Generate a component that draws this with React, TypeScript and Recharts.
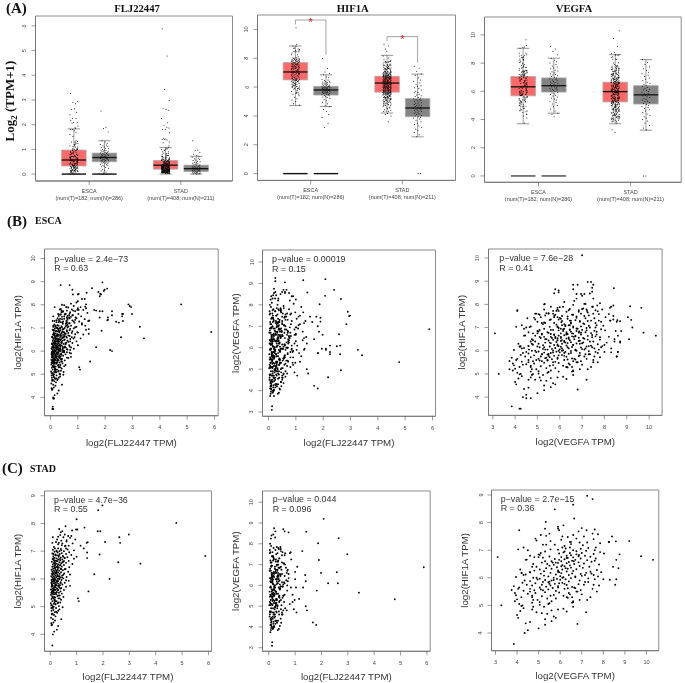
import React from 'react';
import { ScatterChart, Scatter, XAxis, YAxis, ReferenceArea, ReferenceLine } from 'recharts';

// [FLJ22447, HIF1A, VEGFA] (STAD tumour samples)
const stadRows: (number | null)[][] = [
[5.88,6.83,6.87],[4.78,8.02,5.33],[3.42,6.55,5.65],[2.98,7.6,7.5],[2.65,7.3,8.27],[2.62,7.5,6.1],[2.58,6.6,6.63],[2.25,6,6.1],[2.08,7.33,9.2],[1.98,8.65,6.6],[1.87,6.88,8.03],[1.82,8.48,5.75],[1.8,7.72,4.1],[1.9,7.72,7.22],[1.67,6.17,4.22],[1.45,5.55,4.8],[1.42,7.32,8.58],[1.4,6.75,5],[1.38,7.3,6.5],[1.4,6.95,6.2],[1.3,7.85,5.9],[1.27,7.1,7.65],[1.05,5.3,4.7],[1.08,5.2,6.9],[1,8.15,6.65],[1.03,7.78,5.9],[.98,7.78,5.3],[1.15,7.2,5.35],
[.12,6.75,3.1],[.13,5,3.27],[.08,3.6,3.85],[.1,4,4.35],[.15,4.1,4.5],[.25,4.17,5],[.3,4.3,5.3],[.05,4.33,6.8],[.07,4.35,4.4],[.04,4.4,4.6],[.12,4.43,5.6],[.18,4.5,5.3],[.1,4.55,4.05],[.2,4.65,4],[.03,4.6,5.7],[.06,4.72,5.15],[.14,4.7,5.4],[.42,4.55,5.8],[.09,4.75,4.9],[.17,4.8,4.15],[.22,4.82,5.6],[.3,4.85,4.7],[.05,4.85,5.9],[.12,4.88,6.15],[.26,4.78,6.3],[.35,4.9,4.3],
[.04,4.95,4.75],[.1,5,4.25],[.33,5.02,5.05],[.47,4.98,4.2],[.06,5.05,4.1],[.2,5.08,5.5],[.13,5.1,4.7],[.28,5.12,6.6],[.02,5.12,5.05],[.38,5.15,3.9],[.08,5.2,4.75],[.24,5.2,4.95],[.16,5.22,4],[.41,5.25,5.4],[.05,5.28,6.35],[.31,5.3,4.2],[.12,5.3,6.55],[.19,5.33,5.15],[.5,5.35,4.7],[.09,5.37,3.95],[.27,5.38,5.7],[.36,5.4,6.45],[.03,5.42,4.5],[.15,5.45,3.9],[.22,5.45,4.85],[.44,5.47,5.95],[.07,5.48,5.3],[.33,5.5,6.75],[.18,5.5,4.6],
[.11,5.52,5.8],[.25,5.53,4.3],[.39,5.55,5.2],[.06,5.56,3.75],[.14,5.58,5.45],[.3,5.6,6.2],[.2,5.6,4.05],[.52,5.6,4.6],[.03,5.62,6.7],[.17,5.63,5.65],[.27,5.65,5.05],[.09,5.65,4.1],[.42,5.67,6.55],[.13,5.68,5.35],[.34,5.7,3.85],[.21,5.7,5.9],[.05,5.72,4.7],[.6,5.72,5.55],[.16,5.74,6.3],[.29,5.75,5.15],[.1,5.75,4.45],[.37,5.77,6.85],[.23,5.78,5.75],[.07,5.8,5.95],[.46,5.8,4.85],[.18,5.82,4.25],[.32,5.82,6.1],[.12,5.84,5.45],[.26,5.85,7.15],[.04,5.85,5.2],[.55,5.86,5.5],[.2,5.87,6.4],[.39,5.88,4.6],[.15,5.9,5.6],[.09,5.9,6.9],[.3,5.92,5.3],[.7,5.93,6],[.24,5.94,4.95],[.13,5.95,6.25],[.43,5.96,5.85],[.06,5.97,5.05],[.19,5.98,7.3],[.35,5.99,6.5],
[.11,6,5.7],[.28,6,4.75],[.5,6.02,6.15],[.17,6.03,3.95],[.08,6.05,6.7],[.38,6.05,5.45],[.23,6.06,6],[.62,6.07,7],[.14,6.08,5.25],[.32,6.1,6.4],[.04,6.1,7.55],[.2,6.12,5.8],[.45,6.12,4.4],[.1,6.14,6.95],[.27,6.15,5.1],[.75,6.16,6.55],[.16,6.17,6.05],[.36,6.18,7.2],[.06,6.18,5.55],[.22,6.2,4.6],[.53,6.2,5.95],[.12,6.22,7.4],[.3,6.23,6.3],[.41,6.24,5.25],[.18,6.25,6.6],[.68,6.26,4.8],[.08,6.27,5.9],[.25,6.28,7.7],[.14,6.3,5.05],[.34,6.3,6.1],[.48,6.31,6.75],[.2,6.33,5.6],[.05,6.33,6.35],[.28,6.35,5.35],[.58,6.36,7.05],[.11,6.37,6.5],[.4,6.38,5.85],[.17,6.4,7.35],[.32,6.4,4.9],[.72,6.42,6.2],[.23,6.43,6.9],[.08,6.44,5.5],[.44,6.45,6.45],[.15,6.46,6.1],[.28,6.47,5.7],[.36,6.48,7.8],[.52,6.5,5.4],[.19,6.5,6.65],
[.1,6.52,7.1],[.3,6.53,6.3],[.84,6.54,5.9],[.24,6.55,5.15],[.42,6.56,6.85],[.13,6.57,6.4],[.6,6.58,7.45],[.35,6.6,5.6],[.18,6.6,6.05],[.06,6.62,7.6],[.5,6.62,6.55],[.27,6.64,7.25],[.7,6.65,6.7],[.21,6.66,4.45],[.38,6.67,6.2],[.14,6.68,5.75],[.46,6.7,7.65],[.3,6.7,6.95],[.09,6.72,6.3],[.9,6.73,5.2],[.24,6.74,6.6],[.55,6.75,6.05],[.17,6.76,7.4],[.4,6.77,5.5],[.65,6.78,6.85],[.32,6.8,7.15],[.12,6.82,6.5],[.48,6.83,5.05],[.26,6.85,6.75],[1,6.8,6.3],[.8,6.86,7.55],[.2,6.88,5.95],[.36,6.9,7],[.6,6.9,6.45],[.08,6.92,6.15],[.44,6.93,7.85],[.28,6.95,5.3],[.72,6.96,6.75],[.16,6.98,7.2],
[.35,7,6.6],[.52,7,7.6],[.24,7.02,5.9],[.9,7.03,5.55],[.1,7.05,6.95],[.66,7.06,6.25],[.4,7.08,7.3],[.18,7.1,6.45],[.1,7.5,8.4],[.08,7.3,8.25],[.2,6.85,8.75],[.25,6.65,8.6],[.17,6.4,8.45],[.6,5.95,8.6],[.75,5.75,8.55],[.55,6.35,8.7],[.3,7.25,7.85],[.46,7.28,6.9],[.14,7.15,6.2],[.56,7.18,7.05],[.7,7.2,5.75],[.33,7.3,6.45],[.22,7.33,5.55],[.85,7.28,7.25],[.42,7.38,6.05],[.62,7.4,7.55],[.26,7.42,6.75],[.95,7.42,4.85],[.5,7.5,7.1],[.3,7.52,5.35],[.68,7.55,6.6],[.38,7.58,7.75],[.55,7.6,5.5],[.75,7.48,6.35],[.4,7.68,6.85],[.34,7.8,7],[.46,7.72,5.95],[.58,7.9,6.15],[.83,7.75,7.6],
[.42,7.03,4.05],[.3,7.1,4.3],[.62,7.35,4.9],[.24,7,4.5],[.5,6.8,4.6],[.15,6.65,4.4],[.09,6.18,4.2],[.27,6.1,4.3],[.19,6.4,4.7],[.55,6.75,4.8],[.33,6.85,5],[.12,6.9,5.1],[.46,6.6,5.3],[.22,6.2,4.6],[.16,6,4.9],[.38,6.5,4.75],[.07,5.9,4.35],[.25,6.3,4.15],[.58,7.2,5.2],[.8,7.55,5.1],
[.06,4.75,7.2],[.1,4.95,6.6],[.2,5.1,6.55],[.16,5.15,6.6],[.13,5.3,7.4],[.04,5.5,7.7],[.3,5.4,7],[.23,5.5,6.8],[.11,5.45,6.4],[.36,5.3,6.3],[.07,5.75,7.1],[.28,5.6,7.5],[.18,5.72,7.8],[.4,5.85,7.3],[.14,5.95,7.6],[.05,5.95,8],[.24,5.93,8.3],[.33,5.75,7.55],[.45,6.05,7.75],[.09,6.2,7.9],[.19,5.2,7.25],[.35,6.1,7.15],[.5,6.15,7.45],[.12,5.55,6.95],[.26,5.65,6.65],[.08,5.35,6.15],[.17,5.25,5.8],[.3,5.15,5.6],[.04,5.05,5.45],[.22,4.95,5.25],[.38,5.65,5.9],[.1,5.58,5.1],[.2,5.78,5.5],[.15,5.35,5.55],[.27,5.92,5.7],[.06,5.78,6.2],[.32,6.02,6.7],[.13,5.62,6.35],[.23,6.22,5.9],[.41,6.35,6.25],[.18,6.55,5.8],[.29,6.42,6.05],[.52,6.65,5.95],[.37,6.72,6.35],[.6,7.1,6.1],[.44,7.22,6.5],
[null,8.97,7.25],[null,8.85,7.5],[null,6.65,10.3],[null,6.78,9.75],
];

// [FLJ22447, HIF1A, VEGFA] seen only in the pooled ESCA panels
const escaRows: (number | null)[][] = [
[3.27,7.05,5.9],[2.85,8.02,7.1],[2.9,7.95,7.68],[2.95,7.9,7.48],[2.62,7.6,5.7],[2.65,7.6,4.95],[2.5,7.23,6.07],[2.4,7.27,8.7],[2.25,7.55,5.8],[2.25,7.72,5.7],[2.1,7.45,5.9],[2.1,7.35,5.95],[2.18,6.05,4.62],[1.9,8.97,7.4],[1.95,8.6,5.95],[2.07,8.7,8.42],[1.75,8.55,7.45],[1.8,8.37,7],[1.85,8.45,6.75],[1.52,8.72,7.45],[1.32,8.52,5.95],[.7,8.85,6.8],[.37,8.85,6.6],[.8,8.65,5.8],[1.6,7.78,7.2],[1.67,7.75,6.4],[1.8,7.45,5.75],[.25,7,9.25],[.25,6.5,9.1],[.6,7.45,9.05],[1.27,7.92,9.15],
[.25,4.75,4.6],[.15,4.85,5.1],[.35,5,4.8],[.48,5.1,5.95],[.2,5.2,3.75],[.3,5.3,6.3],[.55,5.4,4.35],[.12,5.5,5.7],[.42,5.55,6.6],[.25,5.6,4.95],[.65,5.7,5.4],[.18,5.8,6.9],[.38,5.85,5.2],[.75,5.9,6.5],[.5,5.95,4.5],[.1,6,5.95],[.3,6.05,7.1],[.6,6.08,5.65],[.85,6.1,6.1],[.22,6.15,6.35],[.45,6.18,5],[.7,6.2,7.3],[.35,6.25,5.75],[1,6.25,6.6],[.55,6.3,4.75],[.15,6.32,7],[.8,6.35,5.55],[.4,6.38,6.2],[.28,6.4,7.5],[.95,6.42,6.85],[.62,6.45,5.9],[.5,6.48,7.25],[.32,6.5,5.35],[.72,6.52,6.4],[1.1,6.55,7.05],[.2,6.55,6.05],[.45,6.58,7.8],[.88,6.6,5.8],[.58,6.62,6.7],[.38,6.65,4.9],[.65,6.68,7.45],[.25,6.7,6.3],[1.2,6.72,5.6],[.52,6.75,6.55],[.78,6.78,6.95],[.42,6.8,5.45],[.98,6.82,7.65],[.6,6.85,6.15],[.3,6.88,7.2],[.7,6.9,5.7],[1.3,6.92,6.45],[.48,6.95,6.8],[.85,6.98,5.95],[.35,7,7.35],[.62,7.02,4.65],[.95,7.05,6.6],[.55,7.08,7.95],[.75,7.1,6.25],[.25,7.12,5.85],[1.15,7.15,7.1],[.45,7.18,6.5],[.68,7.2,7.6],[.88,7.22,5.3],[.38,7.25,6.9],[1.05,7.28,6.1],[.58,7.3,7.4],[.8,7.32,6.7],[.3,7.35,5.6],[1.25,7.38,6.35],[.5,7.4,7.15],[.7,7.42,6],[.92,7.45,8.05],[.42,7.48,6.75],[1.12,7.5,5.75],[.62,7.52,7.3],[.82,7.55,6.55],[.35,7.58,8.2],[1.02,7.6,6.95],[.55,7.62,5.5],[1.35,7.65,7.25],[.72,7.68,6.3],[.45,7.7,7.7],[.9,7.72,5.85],[.6,7.75,6.85],[1.2,7.78,7.9],[.78,7.8,6.45],[.38,7.82,7.05],[1,7.85,8.25],[.65,7.88,6],[1.1,7.9,7.45],[.85,7.95,8.4],[.5,7.98,6.6],[1.3,8.02,7.15],[.75,8.05,7.8],[.95,8.1,6.2],[1.15,8.25,7.5],[1.25,8.25,6.75],[1.03,8.47,7.35],[1,8.45,6.95],[.82,8.45,7.1],
[.06,6.6,5.1],[.1,7.1,6.4],[.12,6.9,5.6],[.05,6.3,6.9],[.15,7.3,7.75],[.15,7.9,8.3],[.08,5.6,5.45],[.04,5.9,6.2],
[.4,7.75,4.1],[.28,7.6,4.9],[.52,7.58,5.05],[.35,7.4,4.55],[.22,7.25,5],[.62,7.15,5.25],[.18,7.05,4.7],[.46,6.95,4.4],[.7,7.62,5.4],[.3,6.7,5.2],[.15,6.45,4.8],[.58,7.9,5.6],[.42,8,5.3],[.26,6.2,4.25],[.68,7.45,5.15],
[.2,5.75,8.55],[.36,6.1,8.3],[.5,5.95,8.6],[.12,6.35,8.1],[.28,6.5,8.45],[.66,6.4,8.7],[.44,6.85,8.5],[.24,5.9,7.7],[.56,6.15,7.85],[.16,5.5,7.5],[.33,6.25,8],[.78,6.6,8.2],[.4,5.65,7.2],[.1,5.85,7.35],[.6,7.25,8.55],[.9,7.35,8.4],[.48,6,6.75],[.72,6.05,5.35],[.14,6.7,5.75],[.3,6.95,6.05],[.08,6.15,5.3],
[null,10.12,7],[null,7.85,9.65],
];

// Points only in the pooled panels
const pooledLowRows: number[][] = [[.07,3.5,4.2],[.1,3.5,4.25],[.1,3.95,4.5],[.13,3.95,4.7]];

const fljNormalEsca = [2.55,1.9,1.85,1.7,1.35,1.3,1.25,1.2,1.18,1.15,1.12,1.1,1.08,1.05,1.03,1,.98,.96,.95,.93,.92,.9,.88,.87,.85,.84,.82,.8,.79,.78,.76,.75,.74,.72,.71,.7,.69,.68,.66,.65,.64,.63,.62,.6,.59,.58,.56,.55,.54,.53,.52,.5,.49,.48,.46,.45,.44,.42,.4,.38,.36,.34,.32,.3,.27,.24,.2,.16,.12,.08,.04];
const fljNormalStad = [1.35,.98,.95,.88,.8,.75,.72,.68,.65,.62,.6,.57,.55,.52,.5,.48,.46,.44,.42,.4,.38,.37,.36,.34,.33,.32,.3,.29,.28,.27,.26,.25,.24,.23,.22,.21,.2,.19,.18,.17,.16,.15,.14,.13,.12,.11,.1,.09,.08,.07,.06,.05,.04,.03,.02,.01,0,0];
const hifNormalEsca = [8,7.3,7.05,6.95,6.85,6.7,6.65,6.55,6.5,6.45,6.4,6.38,6.35,6.32,6.3,6.28,6.25,6.22,6.2,6.18,6.15,6.13,6.1,6.08,6.06,6.05,6.03,6.02,6,5.98,5.97,5.95,5.93,5.92,5.9,5.88,5.87,5.85,5.84,5.82,5.8,5.8,5.78,5.76,5.75,5.73,5.72,5.7,5.68,5.66,5.65,5.63,5.6,5.58,5.56,5.55,5.52,5.5,5.47,5.45,5.42,5.4,5.36,5.32,5.28,5.22,5.15,5.05,4.95,4.85,4.7,4.65,4.45,4.3,4.1,3.9,3.5,3.2];
const hifNormalStad = [7.45,7.3,7.1,6.9,6.8,6.65,6.5,6.4,6.3,6.2,6.1,6.05,5.95,5.9,5.8,5.72,5.65,5.6,5.5,5.45,5.4,5.35,5.3,5.25,5.2,5.15,5.12,5.08,5.05,5,4.96,4.92,4.88,4.85,4.8,4.76,4.72,4.7,4.65,4.62,4.58,4.55,4.52,4.48,4.45,4.42,4.38,4.35,4.3,4.27,4.22,4.18,4.15,4.1,4.05,4,3.95,3.9,3.85,3.78,3.7,3.6,3.5,3.4,3.3,3.2,3.1,3,2.85,2.7,2.55];
const vegfaNormalEsca = [9.2,9,8.85,8.6,8.35,8.2,8.1,8,7.9,7.8,7.72,7.65,7.6,7.5,7.45,7.38,7.32,7.25,7.2,7.15,7.1,7.05,7,6.95,6.9,6.85,6.8,6.75,6.7,6.66,6.62,6.58,6.55,6.5,6.46,6.42,6.4,6.37,6.33,6.3,6.26,6.22,6.18,6.14,6.1,6.06,6.02,5.98,5.93,5.88,5.83,5.78,5.72,5.66,5.6,5.52,5.45,5.38,5.3,5.2,5.1,5,4.9,4.75,4.6,4.45,4.35,4.2];
const vegfaNormalStad = [8.25,8.05,7.9,7.75,7.6,7.5,7.35,7.25,7.15,7.05,6.95,6.85,6.75,6.65,6.58,6.5,6.42,6.35,6.28,6.22,6.15,6.1,6.05,5.98,5.92,5.87,5.82,5.77,5.72,5.68,5.62,5.56,5.5,5.44,5.38,5.32,5.27,5.2,5.14,5.08,5,4.93,4.85,4.78,4.7,4.6,4.5,4.4,4.3,4.2,4.1,4,3.9,3.75,3.6,3.4,3.25];

// Side-by-side offsets of the dots inside one box column
const jitterOffsets = [-.11,.05,-.03,.12,-.08,.02,.09,-.13,.07,-.05,.11,-.01,-.1,.04,.13,-.06,.01];

// [low whisker, Q1, median, Q3, high whisker] for ESCA T, ESCA N, STAD T, STAD N
const fljBoxes = [[0,.33,.57,.97,1.83],[0,.5,.67,.85,1.35],[0,.2,.36,.55,1.08],[0,.1,.22,.36,.72]];
const hifBoxes = [[4.72,6.5,7.05,7.7,8.85],[4.65,5.45,5.8,6.05,6.85],[4.2,5.65,6.28,6.75,8.2],[2.55,3.95,4.55,5.2,6.9]];
const vegfaBoxes = [[3.7,5.68,6.32,7.05,9.05],[4.45,5.95,6.4,6.95,8.35],[3.7,5.25,5.98,6.65,8.6],[3.25,5.1,5.75,6.4,8.25]];

const boxColumns = [1, 2, 4, 5];
const boxCategories = [{ at: 1.5, name: 'ESCA', note: '(num(T)=182; num(N)=286)' }, { at: 4.5, name: 'STAD', note: '(num(T)=408; num(N)=211)' }];

const SANS = '"Liberation Sans", Arial, sans-serif';
const SERIF = '"Liberation Serif", "Times New Roman", serif';
const TICK = '#444';

const col = (rows: (number | null)[][], i: number) => rows.filter(r => r[i] !== null).map(r => r[i] as number);
const pairs = (rows: (number | null)[][], xi: number, yi: number) =>
  rows.filter(r => r[xi] !== null && r[yi] !== null).map(r => ({ x: r[xi], y: r[yi] }));
const jittered = (values: number[], center: number) =>
  values.map((y, i) => ({ x: center + jitterOffsets[i % jitterOffsets.length], y }));

const Dot = (r: number) => (p: any) => <circle cx={p.cx} cy={p.cy} r={r} fill="#000" />;
const Star = (p: any) => <text x={p.cx} y={p.cy + 6} fontSize={11} fontFamily={SANS} fill="#f01818" textAnchor="middle">*</text>;
const YTick = (p: any) => (
  <text x={p.x - 3} y={p.y} fontSize={5.6} fontFamily={SANS} fill={TICK} textAnchor="middle" transform={`rotate(-90 ${p.x - 3} ${p.y})`}>{p.payload.value}</text>
);
const XTick = (p: any) => <text x={p.x} y={p.y + 7.5} fontSize={5.6} fontFamily={SANS} fill={TICK} textAnchor="middle">{p.payload.value}</text>;
const CatTick = (p: any) => {
  const c = boxCategories.find(k => k.at === p.payload.value);
  return (
    <text fontSize={5.5} fontFamily={SANS} fill="#444" textAnchor="middle">
      <tspan x={p.x} y={p.y + 6}>{c?.name}</tspan>
      <tspan x={p.x} y={p.y + 12.5}>{c?.note}</tspan>
    </text>
  );
};

const LEFT = 36.5, TOP = 8, RIGHT = 6, BOTTOM = 36;

type Frame = { x: number; y: number; w: number; h: number; xd: number[]; yd: number[]; titleGap?: number };

function Shell({ f, xTicks, yTicks, xTick, xTitle, yTitle, children }: any) {
  return (
    <div style={{ position: 'absolute', left: f.x - LEFT, top: f.y - TOP }}>
      <ScatterChart width={f.w + LEFT + RIGHT} height={f.h + TOP + BOTTOM} margin={{ top: TOP, right: RIGHT, left: 0, bottom: 0 }}>
        <XAxis type="number" dataKey="x" domain={f.xd} allowDataOverflow ticks={xTicks} interval={0} height={BOTTOM}
          tick={xTick} tickSize={4} tickMargin={2} tickLine={{ stroke: '#555', strokeWidth: 0.6 }} axisLine={{ stroke: '#777' }}
          label={xTitle ? { value: xTitle, position: 'insideBottom', offset: f.titleGap ?? 6, style: { fontSize: 9.7, fontFamily: SANS, fill: '#333' } } : undefined} />
        <YAxis type="number" dataKey="y" domain={f.yd} allowDataOverflow ticks={yTicks} interval={0} width={LEFT}
          tick={YTick} tickSize={4} tickMargin={2} tickLine={{ stroke: '#555', strokeWidth: 0.6 }} axisLine={{ stroke: '#777' }}
          label={yTitle ? { value: yTitle, angle: -90, position: 'insideLeft', offset: 10, style: { textAnchor: 'middle', fontSize: 9.7, fontFamily: SANS, fill: '#333' } } : undefined} />
        <ReferenceArea x1={f.xd[0]} x2={f.xd[1]} y1={f.yd[0]} y2={f.yd[1]} fill="none" fillOpacity={0} stroke="#8c8c8c" strokeWidth={1} />
        {children}
      </ScatterChart>
    </div>
  );
}

function BoxPanel({ f, ticks, boxes, groups, zeroColor, zeroDots, brackets }: any) {
  const refs: React.ReactNode[] = [];
  boxes.forEach((b: number[], i: number) => {
    const c = boxColumns[i];
    const [lo, q1, med, q3, hi] = b;
    const fill = i % 2 === 0 ? '#ff2020' : '#4a4a4a';
    refs.push(<ReferenceLine key={`wl${i}`} segment={[{ x: c, y: lo }, { x: c, y: q1 }]} stroke="#777" strokeWidth={0.7} />);
    refs.push(<ReferenceLine key={`wh${i}`} segment={[{ x: c, y: q3 }, { x: c, y: hi }]} stroke="#777" strokeWidth={0.7} />);
    refs.push(<ReferenceLine key={`cl${i}`} segment={[{ x: c - .2, y: lo }, { x: c + .2, y: lo }]} stroke="#666" strokeWidth={0.7} />);
    refs.push(<ReferenceLine key={`ch${i}`} segment={[{ x: c - .2, y: hi }, { x: c + .2, y: hi }]} stroke="#666" strokeWidth={0.7} />);
    refs.push(<ReferenceArea key={`bx${i}`} x1={c - .4} x2={c + .4} y1={q1} y2={q3} fill={fill} fillOpacity={0.68} stroke="#a8a8a8" strokeWidth={0.8} />);
    refs.push(<ReferenceLine key={`md${i}`} segment={[{ x: c - .4, y: med }, { x: c + .4, y: med }]} stroke="#111" strokeWidth={1.3} />);
  });
  [1, 2].forEach(c => {
    refs.push(<ReferenceLine key={`z${c}`} segment={[{ x: c - .4, y: 0 }, { x: c + .4, y: 0 }]} stroke={zeroColor} strokeWidth={1.4} />);
  });
  (brackets || []).forEach((k: number[], i: number) => {
    const [x1, x2, top, leftEnd, rightEnd] = k;
    refs.push(<ReferenceLine key={`b${i}a`} segment={[{ x: x1, y: leftEnd }, { x: x1, y: top }]} stroke="#999" strokeWidth={0.9} />);
    refs.push(<ReferenceLine key={`b${i}b`} segment={[{ x: x1, y: top }, { x: x2, y: top }]} stroke="#999" strokeWidth={0.9} />);
    refs.push(<ReferenceLine key={`b${i}c`} segment={[{ x: x2, y: top }, { x: x2, y: rightEnd }]} stroke="#999" strokeWidth={0.9} />);
  });
  return (
    <Shell f={f} xTicks={[1.5, 4.5]} yTicks={ticks} xTick={CatTick}>
      {refs}
      {groups.map((g: any, i: number) => (
        <Scatter key={i} data={g} isAnimationActive={false} shape={Dot(0.5)} />
      ))}
      {zeroDots ? <Scatter data={zeroDots} isAnimationActive={false} shape={Dot(0.55)} /> : null}
      {brackets ? <Scatter data={brackets.map((k: number[]) => ({ x: (k[0] + k[1]) / 2, y: k[2] }))} isAnimationActive={false} shape={Star} /> : null}
    </Shell>
  );
}

function ScatterPanel({ f, xTicks, yTicks, data, xTitle, yTitle }: any) {
  return (
    <Shell f={f} xTicks={xTicks} yTicks={yTicks} xTick={XTick} xTitle={xTitle} yTitle={yTitle}>
      <Scatter data={data} isAnimationActive={false} shape={Dot(0.95)} />
    </Shell>
  );
}

const frames: Record<string, Frame> = {
  a1: { x: 35, y: 16, w: 197, h: 165, xd: [-.256, 6.19], yd: [-.28, 6.4] },
  a2: { x: 257.3, y: 15.3, w: 198, h: 165.4, xd: [-.24, 6.24], yd: [-.47, 11.0] },
  a3: { x: 484.3, y: 16.7, w: 196.7, h: 165.3, xd: [-.26, 6.15], yd: [-.45, 11.27] },
  b1: { x: 44.3, y: 249.3, w: 173.7, h: 166.7, xd: [-.22, 6.135], yd: [3.21, 10.41] },
  b2: { x: 262.3, y: 249.7, w: 173, h: 166.3, xd: [-.22, 6.11], yd: [2.8, 10.56] },
  b3: { x: 488.7, y: 249.3, w: 173.6, h: 166.4, xd: [2.81, 10.58], yd: [3.21, 10.39] },
  c1: { x: 44.3, y: 491, w: 167, h: 160.3, xd: [-.217, 6.114], yd: [3.39, 9.17], titleGap: 7.5 },
  c2: { x: 262.3, y: 491, w: 167.7, h: 160.3, xd: [-.24, 6.125], yd: [2.83, 10.54], titleGap: 7.5 },
  c3: { x: 491, y: 490.3, w: 167.3, h: 160.7, xd: [2.815, 10.57], yd: [3.36, 9.18], titleGap: 7.5 },
};

const pooledRows = [...stadRows, ...escaRows, ...pooledLowRows];
const tick06 = [0, 1, 2, 3, 4, 5, 6];
const tick310 = [3, 4, 5, 6, 7, 8, 9, 10];
const tick410 = [4, 5, 6, 7, 8, 9, 10];
const tick49 = [4, 5, 6, 7, 8, 9];
const tick010 = [0, 2, 4, 6, 8, 10];

const notes = [
  { x: 54.3, y: 261.7, t: 'p\u2212value = 2.4e\u221273', r: 'R = 0.63' },
  { x: 272, y: 262, t: 'p\u2212value = 0.00019', r: 'R = 0.15' },
  { x: 499.3, y: 261, t: 'p\u2212value = 7.6e\u221228', r: 'R = 0.41' },
  { x: 54, y: 502.7, t: 'p\u2212value = 4.7e\u221236', r: 'R = 0.55' },
  { x: 272.7, y: 502.3, t: 'p\u2212value = 0.044', r: 'R = 0.096' },
  { x: 500.7, y: 501.7, t: 'p\u2212value = 2.7e\u221215', r: 'R = 0.36' },
];

const geneTitles = [
  { x: 137, t: 'FLJ22447' },
  { x: 352.7, t: 'HIF1A' },
  { x: 574, t: 'VEGFA' },
];

export default function App() {
  return (
    <div style={{ position: 'absolute', left: 0, top: 0, width: 685, height: 683, background: '#fff', overflow: 'hidden', filter: 'blur(0.4px)' }}>
      <BoxPanel f={frames.a1} ticks={tick06} boxes={fljBoxes} zeroColor="#111"
        groups={[jittered(col(escaRows, 0), 1), jittered(fljNormalEsca, 2), jittered(col(stadRows, 0), 4), jittered(fljNormalStad, 5)]} />
      <BoxPanel f={frames.a2} ticks={tick010} boxes={hifBoxes} zeroColor="#111"
        groups={[jittered(col(escaRows, 1), 1), jittered(hifNormalEsca, 2), jittered(col(stadRows, 1), 4), jittered(hifNormalStad, 5)]}
        zeroDots={[{ x: 5.02, y: 0 }, { x: 5.1, y: 0 }]} brackets={[[1, 2, 10.65, 10.35, 8.25], [4, 5, 9.5, 9.2, 7.7]]} />
      <BoxPanel f={frames.a3} ticks={tick010} boxes={vegfaBoxes} zeroColor="#444"
        groups={[jittered(col(escaRows, 2), 1), jittered(vegfaNormalEsca, 2), jittered(col(stadRows, 2), 4), jittered(vegfaNormalStad, 5)]}
        zeroDots={[{ x: 4.92, y: 0 }, { x: 5, y: 0 }]} />

      <ScatterPanel f={frames.b1} xTicks={tick06} yTicks={tick410} data={pairs(pooledRows, 0, 1).filter(p => (p.y as number) < 9.5)} xTitle="log2(FLJ22447 TPM)" yTitle="log2(HIF1A TPM)" />
      <ScatterPanel f={frames.b2} xTicks={tick06} yTicks={tick310} data={pairs(pooledRows, 0, 2)} xTitle="log2(FLJ22447 TPM)" yTitle="log2(VEGFA TPM)" />
      <ScatterPanel f={frames.b3} xTicks={tick310} yTicks={tick410} data={pairs(pooledRows, 2, 1)} xTitle="log2(VEGFA TPM)" yTitle="log2(HIF1A TPM)" />
      <ScatterPanel f={frames.c1} xTicks={tick06} yTicks={tick49} data={pairs(stadRows, 0, 1)} xTitle="log2(FLJ22447 TPM)" yTitle="log2(HIF1A TPM)" />
      <ScatterPanel f={frames.c2} xTicks={tick06} yTicks={tick310} data={pairs(stadRows, 0, 2)} xTitle="log2(FLJ22447 TPM)" yTitle="log2(VEGFA TPM)" />
      <ScatterPanel f={frames.c3} xTicks={tick310} yTicks={tick49} data={pairs(stadRows, 2, 1)} xTitle="log2(VEGFA TPM)" yTitle="log2(HIF1A TPM)" />

      <svg width={685} height={683} style={{ position: 'absolute', left: 0, top: 0, pointerEvents: 'none' }}>
        <g fontFamily={SERIF} fontWeight="bold" fill="#111">
          <text x={6} y={13} fontSize={15}>(A)</text>
          <text x={7} y={225.5} fontSize={15}>(B)</text>
          <text x={2} y={473} fontSize={15}>(C)</text>
          <text x={35} y={224} fontSize={10}>ESCA</text>
          <text x={30} y={471.5} fontSize={10}>STAD</text>
          {geneTitles.map(g => <text key={g.t} x={g.x} y={12} fontSize={10.7} textAnchor="middle">{g.t}</text>)}
          <text transform="rotate(-90 14 101)" x={14} y={101} fontSize={13} textAnchor="middle">Log<tspan fontSize={9} dy={2.5}>2</tspan><tspan dy={-2.5}> (TPM+1)</tspan></text>
        </g>
        <g fontFamily={SANS} fontSize={8.9} fill="#333">
          {notes.map(n => (
            <g key={n.t}>
              <text x={n.x} y={n.y}>{n.t}</text>
              <text x={n.x} y={n.y + 9.7}>{n.r}</text>
            </g>
          ))}
        </g>
      </svg>
    </div>
  );
}
